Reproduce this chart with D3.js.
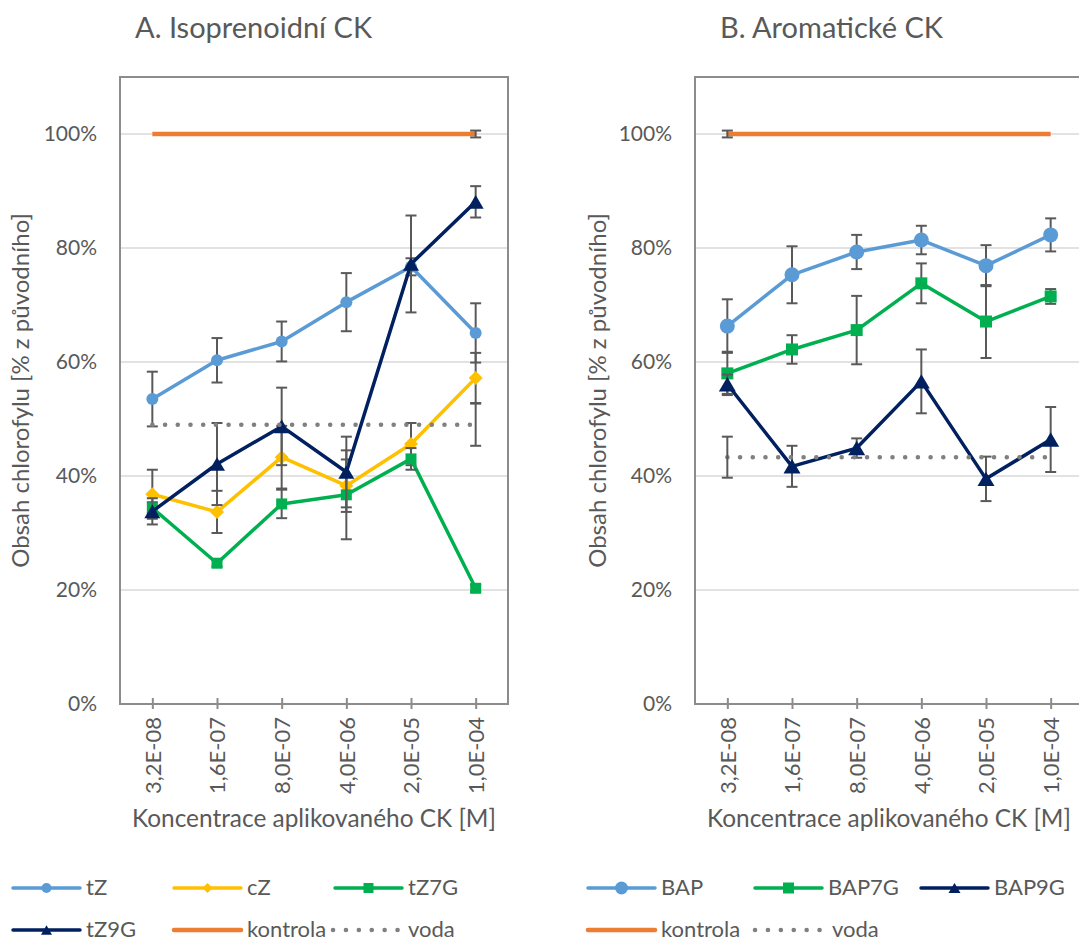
<!DOCTYPE html>
<html>
<head>
<meta charset="utf-8">
<script src="https://cdn.jsdelivr.net/npm/d3@7"></script>
<style>
  body { margin: 0; background: #fff; }
  svg { display: block; }
  text { font-family: Lato, "Open Sans", sans-serif; fill: #595959; }
</style>
</head>
<body>
<svg id="chart" width="1079" height="942"></svg>
<script>
// Concentrations of the applied cytokinin (x categories)
const categories = ["3,2E-08", "1,6E-07", "8,0E-07", "4,0E-06", "2,0E-05", "1,0E-04"];
const yTicks = [0, 20, 40, 60, 80, 100];

// A. Isoprenoid cytokinins: chlorophyll content [% of original] and error (±)
const tZ        = [53.5, 60.3, 63.6, 70.5, 76.7, 65.1];
const tZErr     = [4.8, 3.9, 3.5, 5.1, 1.5, 5.2];
const cZ        = [36.8, 33.7, 43.3, 38.3, 45.6, 57.2];
const cZErr     = [4.3, 3.7, 5.5, 4.6, 3.7, 4.4];
const tZ7G      = [34.4, 24.7, 35.1, 36.7, 43.0, 20.3];
const tZ7GErr   = [1.0, 0.6, 2.5, 7.8, 1.9, 0.6];
const tZ9G      = [33.8, 42.1, 48.7, 40.7, 77.2, 88.1];
const tZ9GErr   = [2.3, 7.2, 6.8, 6.2, 8.5, 2.75];
const kontrolaA    = [100, 100, 100, 100, 100, 100];
const kontrolaAErr = [null, null, null, null, null, 0.6];
const vodaA        = [49.0, 49.0, 49.0, 49.0, 49.0, 49.0];
const vodaAErr     = [null, null, null, null, null, 3.7];

// B. Aromatic cytokinins
const BAP       = [66.3, 75.3, 79.3, 81.4, 76.9, 82.3];
const BAPErr    = [4.7, 5.0, 3.0, 2.5, 3.6, 2.9];
const BAP7G     = [58.0, 62.2, 65.6, 73.8, 67.1, 71.5];
const BAP7GErr  = [3.8, 2.5, 6.0, 3.5, 6.4, 1.3];
const BAP9G     = [56.1, 41.7, 44.9, 56.6, 39.5, 46.4];
const BAP9GErr  = [1.7, 3.6, 1.7, 5.6, 3.9, 5.7];
const kontrolaB    = [100, 100, 100, 100, 100, 100];
const kontrolaBErr = [0.6, null, null, null, null, null];
const vodaB        = [43.3, 43.3, 43.3, 43.3, 43.3, 43.3];
const vodaBErr     = [3.6, null, null, null, null, null];

const COL = {
  blue: "#5B9BD5", yellow: "#FFC000", green: "#00B050",
  navy: "#002060", orange: "#ED7D31", grey: "#808080", err: "#595959"
};

// ---- marker shapes ----
function markerPath(type, s) {
  const p = d3.path();
  if (type === "circle") {
    p.moveTo(s / 2, 0); p.arc(0, 0, s / 2, 0, 2 * Math.PI);
  } else if (type === "square") {
    p.rect(-s / 2, -s / 2, s, s);
  } else if (type === "diamond") {
    p.moveTo(0, -s / 2); p.lineTo(s / 2, 0); p.lineTo(0, s / 2); p.lineTo(-s / 2, 0); p.closePath();
  } else if (type === "triangle") {
    const h = s * 0.85;
    p.moveTo(0, -h / 2); p.lineTo(s / 2, h / 2); p.lineTo(-s / 2, h / 2); p.closePath();
  }
  return p.toString();
}

const panels = [
  {
    title: "A. Isoprenoidní CK", titleX: 135,
    left: 120, right: 508, yLabelX: 20,
    xTitle: "Koncentrace aplikovaného CK [M]",
    series: [
      { name: "tZ",   values: tZ,   err: tZErr,   color: COL.blue,   marker: "circle",   size: 12 },
      { name: "cZ",   values: cZ,   err: cZErr,   color: COL.yellow, marker: "diamond",  size: 14 },
      { name: "tZ7G", values: tZ7G, err: tZ7GErr, color: COL.green,  marker: "square",   size: 11 },
      { name: "tZ9G", values: tZ9G, err: tZ9GErr, color: COL.navy,   marker: "triangle", size: 16 },
      { name: "kontrola", values: kontrolaA, err: kontrolaAErr, color: COL.orange, width: 4.5 },
      { name: "voda", values: vodaA, err: vodaAErr, color: COL.grey, dotted: true }
    ],
    legend: [
      { name: "tZ",   x: 13,  row: 0, lm: 10 }, { name: "cZ", x: 174, row: 0, lm: 10 },
      { name: "tZ7G", x: 335, row: 0, lm: 10 },
      { name: "tZ9G", x: 13,  row: 1, lm: 11 }, { name: "kontrola", x: 174, row: 1 },
      { name: "voda", x: 333, row: 1, gap: 8 }
    ]
  },
  {
    title: "B. Aromatické CK", titleX: 720,
    left: 695, right: 1083, yLabelX: 597,
    xTitle: "Koncentrace aplikovaného CK  [M]",
    series: [
      { name: "BAP",   values: BAP,   err: BAPErr,   color: COL.blue,  marker: "circle",   size: 15 },
      { name: "BAP7G", values: BAP7G, err: BAP7GErr, color: COL.green, marker: "square",   size: 12 },
      { name: "BAP9G", values: BAP9G, err: BAP9GErr, color: COL.navy,  marker: "triangle", size: 17 },
      { name: "kontrola", values: kontrolaB, err: kontrolaBErr, color: COL.orange, width: 4.5 },
      { name: "voda", values: vodaB, err: vodaBErr, color: COL.grey, dotted: true }
    ],
    legend: [
      { name: "BAP",   x: 588, row: 0, lm: 13 }, { name: "BAP7G", x: 755, row: 0, lm: 11 },
      { name: "BAP9G", x: 921, row: 0, lm: 12 },
      { name: "kontrola", x: 588, row: 1 }, { name: "voda", x: 755, row: 1, gap: 10 }
    ]
  }
];

const svg = d3.select("#chart");
const TOP = 77, BOTTOM = 704;
const y = d3.scaleLinear().domain([0, 110]).range([BOTTOM, TOP]);

panels.forEach(P => {
  const g = svg.append("g");
  const x = d3.scalePoint().domain(categories).range([P.left, P.right]).padding(0.5);

  // title
  g.append("text").attr("x", P.titleX).attr("y", 38)
    .style("font-size", "29px").text(P.title);

  // gridlines
  g.append("g").selectAll("line").data(yTicks.filter(d => d > 0)).join("line")
    .attr("x1", P.left).attr("x2", P.right)
    .attr("y1", d => y(d)).attr("y2", d => y(d))
    .attr("stroke", "#D9D9D9").attr("stroke-width", 1.5);

  // plot frame
  g.append("rect").attr("x", P.left).attr("y", TOP)
    .attr("width", P.right - P.left).attr("height", BOTTOM - TOP)
    .attr("fill", "none").attr("stroke", "#8C8C8C").attr("stroke-width", 2);

  // y axis labels
  const ya = g.append("g").attr("transform", `translate(${P.left},0)`)
    .call(d3.axisLeft(y).tickValues(yTicks).tickFormat(d => d + "%").tickSize(0).tickPadding(23));
  ya.select(".domain").remove();
  ya.selectAll("text").style("font-size", "21px").style("font-family", null).attr("fill", null);

  // x axis with crossing ticks
  const xa = g.append("g").attr("transform", `translate(0,${BOTTOM})`)
    .call(d3.axisBottom(x).tickSize(0));
  xa.select(".domain").attr("stroke", "#8C8C8C").attr("stroke-width", 2)
    .attr("d", `M${P.left},0H${P.right}`);
  xa.selectAll(".tick line").attr("y1", -6).attr("y2", 5)
    .attr("stroke", "#8C8C8C").attr("stroke-width", 2);
  xa.selectAll(".tick text")
    .style("font-size", "22px").style("font-family", null).attr("fill", null)
    .attr("transform", "rotate(-90)")
    .attr("text-anchor", "end").attr("x", -13).attr("y", 0).attr("dy", "0.36em");

  // axis titles
  g.append("text").attr("x", (P.left + P.right) / 2).attr("y", 827)
    .attr("text-anchor", "middle").style("font-size", "24.4px").text(P.xTitle);
  g.append("text").attr("transform", `translate(${P.yLabelX},${(TOP + BOTTOM) / 2}) rotate(-90)`)
    .attr("text-anchor", "middle").attr("dy", "0.36em")
    .style("font-size", "24px").text("Obsah chlorofylu [% z původního]");

  // series
  const line = d3.line().x((d, i) => x(categories[i])).y(d => y(d));
  P.series.forEach(S => {
    const sg = g.append("g");
    sg.append("path").attr("d", line(S.values)).attr("fill", "none")
      .attr("stroke", S.color)
      .attr("stroke-width", S.dotted ? 4.5 : (S.width || 3.5))
      .attr("stroke-linejoin", "round")
      .attr("stroke-linecap", S.dotted ? "round" : "butt")
      .attr("stroke-dasharray", S.dotted ? "0.1 12.6" : null);

    const errs = S.values.map((v, i) => ({ v, e: S.err[i], c: categories[i] })).filter(d => d.e != null);
    const eg = sg.append("g").attr("stroke", COL.err).attr("stroke-width", 2);
    eg.selectAll("line.v").data(errs).join("line").attr("class", "v")
      .attr("x1", d => x(d.c)).attr("x2", d => x(d.c))
      .attr("y1", d => y(d.v - d.e)).attr("y2", d => y(d.v + d.e));
    [1, -1].forEach(sign => {
      eg.selectAll("line.c" + (sign > 0 ? "p" : "m")).data(errs).join("line")
        .attr("class", "c" + (sign > 0 ? "p" : "m"))
        .attr("x1", d => x(d.c) - 5.5).attr("x2", d => x(d.c) + 5.5)
        .attr("y1", d => y(d.v + sign * d.e)).attr("y2", d => y(d.v + sign * d.e));
    });

    if (S.marker) {
      sg.selectAll("path.m").data(S.values).join("path").attr("class", "m")
        .attr("transform", (d, i) => `translate(${x(categories[i])},${y(d)})`)
        .attr("d", markerPath(S.marker, S.size)).attr("fill", S.color);
    }
  });

  // legend
  const rowsY = [888, 930];
  P.legend.forEach(L => {
    const S = P.series.find(s => s.name === L.name);
    const lg = g.append("g").attr("transform", `translate(${L.x},${rowsY[L.row]})`);
    lg.append("line").attr("x1", 0).attr("x2", 67)
      .attr("stroke", S.color)
      .attr("stroke-width", S.dotted ? 4.5 : (S.width || 3.5))
      .attr("stroke-linecap", "round")
      .attr("stroke-dasharray", S.dotted ? "0.1 12.8" : null);
    if (S.marker) {
      lg.append("path").attr("transform", "translate(33.5,0)")
        .attr("d", markerPath(S.marker, L.lm)).attr("fill", S.color);
    }
    lg.append("text").attr("x", 67 + (L.gap || 6)).attr("dy", "0.34em")
      .style("font-size", "22px").text(S.name);
  });
});
</script>
</body>
</html>
